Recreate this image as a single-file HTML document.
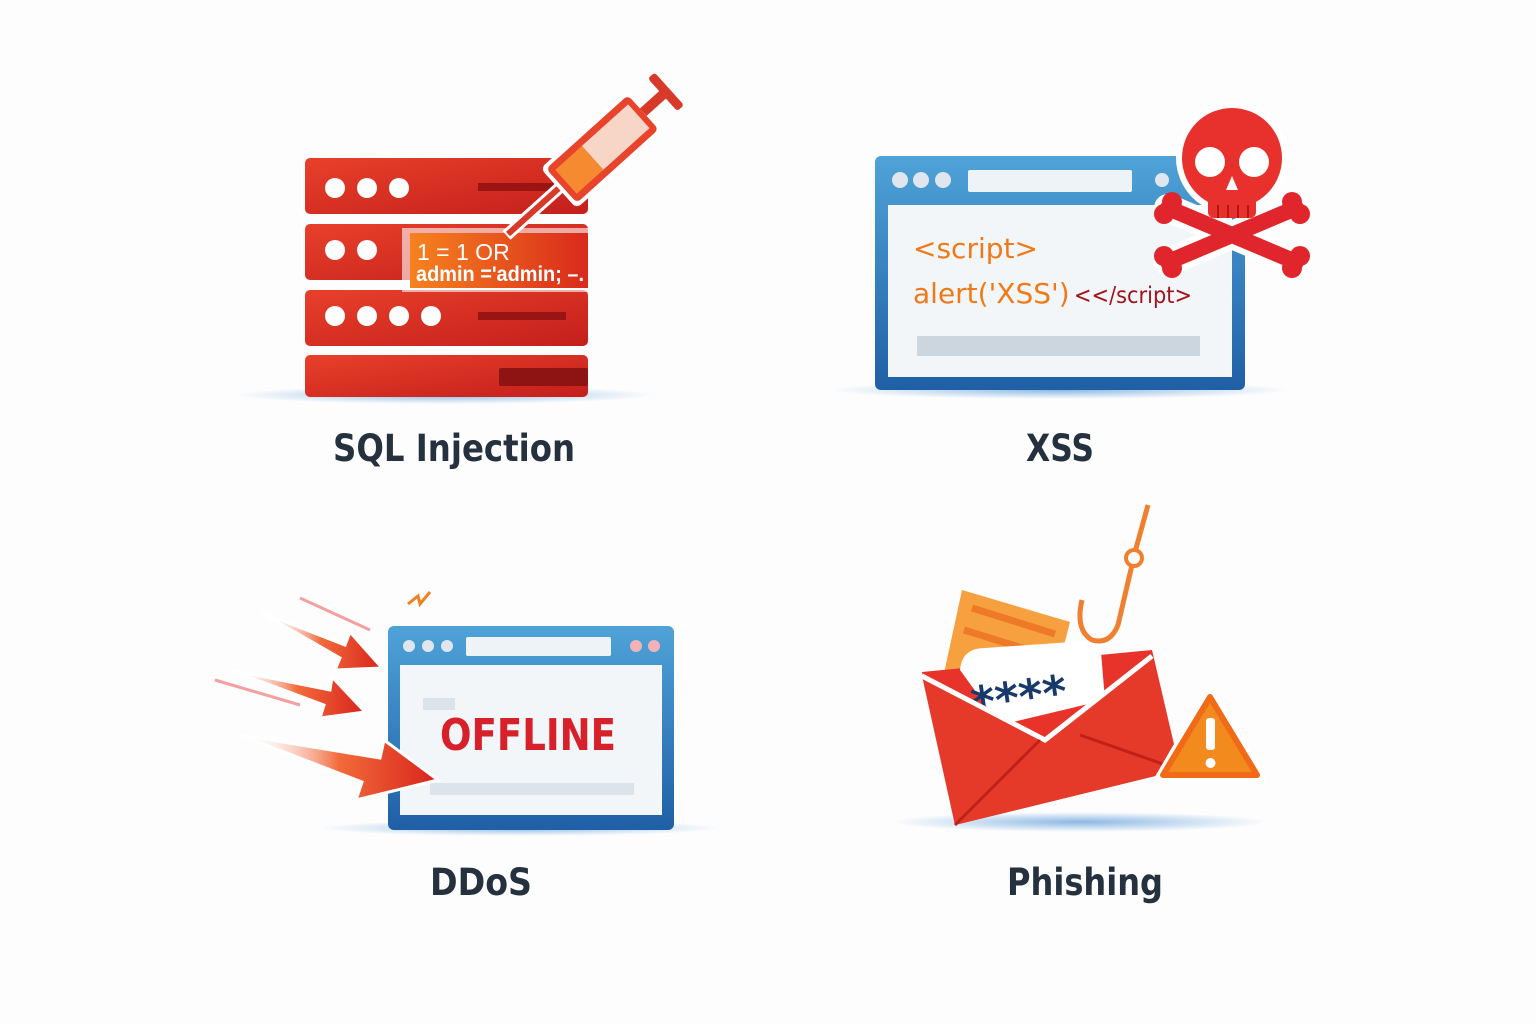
<!DOCTYPE html>
<html><head><meta charset="utf-8"><style>
html,body{margin:0;padding:0;background:#fdfdfd;}
svg{display:block}
text{font-family:"DejaVu Sans","Liberation Sans",sans-serif;}
</style></head><body>
<svg width="1536" height="1024" viewBox="0 0 1536 1024" xmlns="http://www.w3.org/2000/svg">
<defs>
<linearGradient id="red" x1="0" y1="0" x2="1" y2="1"><stop offset="0" stop-color="#e8402a"/><stop offset="1" stop-color="#c41f1c"/></linearGradient>
<linearGradient id="org" x1="0" y1="0" x2="1" y2="0"><stop offset="0" stop-color="#f6821f"/><stop offset="1" stop-color="#d92a1c"/></linearGradient>
<linearGradient id="blue" x1="0" y1="0" x2="0" y2="1"><stop offset="0" stop-color="#4fa3d8"/><stop offset="1" stop-color="#1f5fa6"/></linearGradient>
<linearGradient id="arr" x1="0" y1="0" x2="1" y2="0"><stop offset="0" stop-color="#fff" stop-opacity="0"/><stop offset="0.5" stop-color="#f26a3a"/><stop offset="1" stop-color="#d8241c"/></linearGradient>
<radialGradient id="sh"><stop offset="0" stop-color="#5b9bd8" stop-opacity="0.7"/><stop offset="1" stop-color="#5b9bd8" stop-opacity="0"/></radialGradient>
</defs>
<rect width="1536" height="1024" fill="#fdfdfd"/>

<!-- SQL -->
<ellipse cx="445" cy="395" rx="210" ry="9" fill="url(#sh)"/>
<rect x="305" y="158" width="283" height="56" rx="5" fill="url(#red)"/>
<rect x="305" y="224" width="283" height="56" rx="5" fill="url(#red)"/>
<rect x="305" y="290" width="283" height="56" rx="5" fill="url(#red)"/>
<rect x="305" y="355" width="283" height="42" rx="5" fill="url(#red)"/>
<g fill="#fff"><circle cx="335" cy="188" r="10"/><circle cx="367" cy="188" r="10"/><circle cx="399" cy="188" r="10"/>
<circle cx="335" cy="250" r="10"/><circle cx="367" cy="250" r="10"/>
<circle cx="335" cy="316" r="10"/><circle cx="367" cy="316" r="10"/><circle cx="399" cy="316" r="10"/><circle cx="431" cy="316" r="10"/></g>
<rect x="478" y="183" width="90" height="8" fill="#9a1414"/>
<rect x="478" y="312" width="88" height="8" fill="#9a1414"/>
<rect x="499" y="368" width="89" height="18" rx="2" fill="#8e1414"/>
<rect x="402" y="228" width="186" height="64" fill="#fff" opacity="0.6"/>
<rect x="410" y="233" width="178" height="55" fill="url(#org)"/>
<text x="417" y="260" font-size="23" fill="#fff" style="font-family:'Liberation Sans',sans-serif">1 = 1 OR</text>
<text x="416" y="281" font-size="21" font-weight="bold" fill="#fff" style="font-family:'Liberation Sans',sans-serif" textLength="168" lengthAdjust="spacingAndGlyphs">admin ='admin; –.</text>
<!-- syringe -->
<g transform="translate(508,234) rotate(-42)">
<rect x="-2" y="-6" width="76" height="12" fill="#fff"/>
<rect x="0" y="-3" width="74" height="6" fill="#d83a2a"/>
<rect x="68" y="-27" width="118" height="54" rx="6" fill="#fff"/>
<rect x="72" y="-23" width="110" height="46" rx="5" fill="#e8442c"/>
<rect x="112" y="-16" width="64" height="32" fill="#f7d6c8"/>
<rect x="78" y="-16" width="36" height="32" fill="#f58a30"/>
<rect x="182" y="-5" width="30" height="10" fill="#d83a2a"/>
<rect x="208" y="-22" width="9" height="44" rx="3" fill="#d83a2a"/>
</g>

<!-- XSS -->
<ellipse cx="1060" cy="390" rx="230" ry="9" fill="url(#sh)"/>
<rect x="875" y="156" width="370" height="234" rx="6" fill="url(#blue)"/>
<rect x="888" y="205" width="344" height="172" fill="#f3f6f9"/>
<g fill="#dfe6ee"><circle cx="900" cy="180" r="8"/><circle cx="921" cy="180" r="8"/><circle cx="943" cy="180" r="8"/><circle cx="1162" cy="180" r="7"/></g>
<rect x="968" y="170" width="164" height="22" rx="2" fill="#eef3f7"/>
<text x="913" y="258" font-size="28" fill="#ef7a1a">&lt;script&gt;</text>
<text x="913" y="303" font-size="28" fill="#ef7a1a">alert('XSS')</text>
<text x="1074" y="303" font-size="23" fill="#a0141c" textLength="118" lengthAdjust="spacingAndGlyphs">&lt;&lt;/script&gt;</text>
<rect x="917" y="336" width="283" height="20" fill="#ccd6df"/>
<!-- skull -->
<g>
<g stroke="#fff" stroke-width="28" stroke-linecap="round"><line x1="1168" y1="208" x2="1296" y2="262"/><line x1="1168" y1="262" x2="1296" y2="208"/></g>
<g stroke="#e0262c" stroke-width="16" stroke-linecap="round"><line x1="1168" y1="208" x2="1296" y2="262"/><line x1="1168" y1="262" x2="1296" y2="208"/></g>
<g fill="#e0262c"><circle cx="1164" cy="214" r="10"/><circle cx="1172" cy="202" r="10"/><circle cx="1164" cy="256" r="10"/><circle cx="1172" cy="268" r="10"/><circle cx="1300" cy="214" r="10"/><circle cx="1292" cy="202" r="10"/><circle cx="1300" cy="256" r="10"/><circle cx="1292" cy="268" r="10"/></g>
<circle cx="1232" cy="158" r="56" fill="#fff"/>
<circle cx="1232" cy="158" r="50" fill="#e8302c"/>
<rect x="1208" y="180" width="48" height="38" rx="6" fill="#e8302c"/>
<circle cx="1210" cy="162" r="15" fill="#fff"/><circle cx="1254" cy="162" r="15" fill="#fff"/>
<path d="M1232 176 l-6 14 h12 z" fill="#fff"/>
<g stroke="#b01818" stroke-width="2"><line x1="1218" y1="205" x2="1218" y2="218"/><line x1="1228" y1="205" x2="1228" y2="218"/><line x1="1238" y1="205" x2="1238" y2="218"/><line x1="1248" y1="205" x2="1248" y2="218"/></g>
</g>

<!-- DDoS -->
<ellipse cx="520" cy="828" rx="200" ry="8" fill="url(#sh)"/>
<rect x="388" y="626" width="286" height="204" rx="6" fill="url(#blue)"/>
<rect x="400" y="665" width="262" height="150" fill="#f3f6f9"/>
<g fill="#dfe6ee"><circle cx="409" cy="646" r="6"/><circle cx="428" cy="646" r="6"/><circle cx="447" cy="646" r="6"/></g>
<g fill="#f2b3b8"><circle cx="636" cy="646" r="6"/><circle cx="654" cy="646" r="6"/></g>
<rect x="466" y="637" width="145" height="19" rx="2" fill="#eef3f7"/>
<rect x="423" y="698" width="32" height="12" fill="#dde3ea"/>
<rect x="430" y="783" width="204" height="12" fill="#dde3ea"/>
<text x="528" y="750" font-size="44" font-weight="bold" fill="#d8202a" text-anchor="middle" textLength="176" lengthAdjust="spacingAndGlyphs">OFFLINE</text>
<path d="M408 604 l10 -8 l2 8 l10 -12" stroke="#f08020" stroke-width="3" fill="none"/>
<g>
<path d="M260 612 L345 645 L350 632 L382 668 L335 670 L340 658 Z" fill="url(#arr)" stroke="#fff" stroke-width="3"/>
<path d="M230 670 L330 690 L332 677 L365 712 L320 718 L324 705 Z" fill="url(#arr)" stroke="#fff" stroke-width="3"/>
<path d="M240 735 L380 758 L384 740 L438 780 L356 800 L362 782 Z" fill="url(#arr)" stroke="#fff" stroke-width="3"/>
<path d="M300 598 L370 630" stroke="#f4a0a0" stroke-width="3"/>
<path d="M215 680 L300 705" stroke="#f4a0a0" stroke-width="3"/>
</g>

<!-- Phishing -->
<ellipse cx="1080" cy="822" rx="190" ry="10" fill="url(#sh)"/>
<path d="M962 590 L1070 622 L1040 740 L935 715 Z" fill="#f6a040"/>
<path d="M972 608 L1055 634 M964 630 L1045 655" stroke="#ee7a28" stroke-width="7"/>
<path d="M922 672 L1152 650 L1180 770 L955 825 Z" fill="#e8332a"/>
<path d="M960 670 Q962 648 985 648 L1100 640 L1105 700 L1000 725 Z" fill="#fff"/>
<text x="970" y="712" font-size="46" font-weight="bold" fill="#173a6a" transform="rotate(-8 1030 690)">****</text>
<path d="M922 676 L1045 740 L1152 656 L1180 770 L955 825 Z" fill="#e53a2a"/>
<path d="M922 676 L1045 740 L1152 656" stroke="#fff" stroke-width="5" fill="none"/>
<path d="M955 825 L1040 740 M1180 770 L1080 735" stroke="#c02018" stroke-width="3"/>
<path d="M1148 505 L1135 552 M1132 565 L1118 625 Q1110 645 1092 640 Q1075 630 1082 600" stroke="#f08030" stroke-width="5" fill="none"/>
<circle cx="1134" cy="558" r="8" fill="none" stroke="#f08030" stroke-width="4"/>
<path d="M1210 692 L1262 778 L1160 778 Z" fill="#fff" stroke="#fff" stroke-width="10" stroke-linejoin="round"/>
<path d="M1210 697 L1257 775 L1163 775 Z" fill="#f38a1e" stroke="#f06a18" stroke-width="6" stroke-linejoin="round"/>
<rect x="1206" y="718" width="9" height="32" rx="3" fill="#fff"/><circle cx="1210.5" cy="763" r="5" fill="#fff"/>

<!-- labels -->
<g font-size="37" fill="#263140" text-anchor="middle" font-weight="bold" style="font-family:'Liberation Sans',sans-serif">
<text x="454" y="461" textLength="242" lengthAdjust="spacingAndGlyphs">SQL Injection</text>
<text x="1060" y="461" textLength="68" lengthAdjust="spacingAndGlyphs">XSS</text>
<text x="481" y="895" textLength="102" lengthAdjust="spacingAndGlyphs">DDoS</text>
<text x="1085" y="895" textLength="156" lengthAdjust="spacingAndGlyphs">Phishing</text>
</g>
</svg>
</body></html>
